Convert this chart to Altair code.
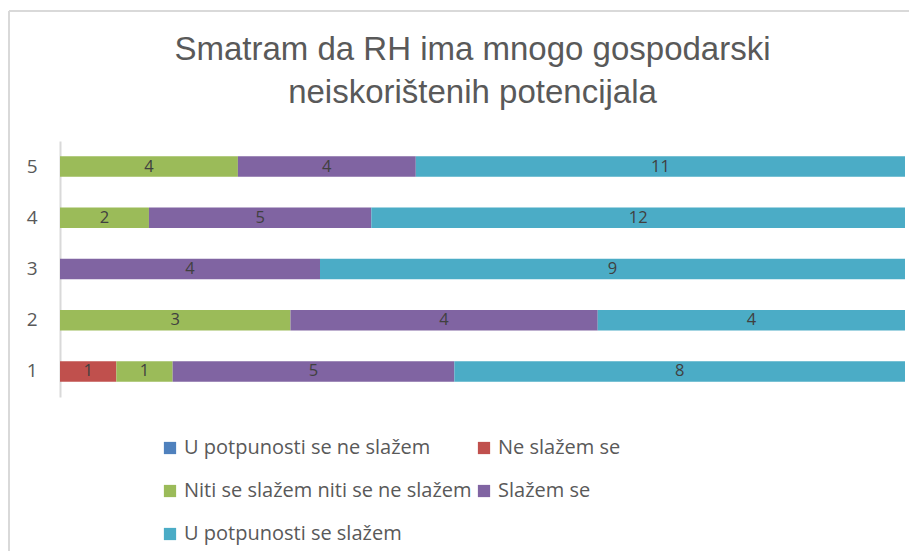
import altair as alt
import pandas as pd

categories = ["1", "2", "3", "4", "5"]
series = [
    "U potpunosti se ne slažem",
    "Ne slažem se",
    "Niti se slažem niti se ne slažem",
    "Slažem se",
    "U potpunosti se slažem",
]
colors = ["#4F81BD", "#C0504D", "#9BBB59", "#8064A2", "#4BACC6"]
v_potpuno_ne = [0, 0, 0, 0, 0]
v_ne = [1, 0, 0, 0, 0]
v_niti = [1, 3, 0, 2, 4]
v_slazem = [5, 4, 4, 5, 4]
v_potpuno = [8, 4, 9, 12, 11]

title_lines = ["Smatram da RH ima mnogo gospodarski", "neiskorištenih potencijala"]

rows = []
for si, vals in enumerate([v_potpuno_ne, v_ne, v_niti, v_slazem, v_potpuno]):
    for ci, c in enumerate(categories):
        if vals[ci] > 0:
            rows.append({"cat": c, "series": series[si], "order": si, "value": vals[ci]})
df = pd.DataFrame(rows)

ysort = list(reversed(categories))

base = alt.Chart(df).transform_stack(
    stack="value", groupby=["cat"], as_=["x0", "x1"], offset="normalize",
    sort=[alt.SortField("order", order="ascending")]
).transform_calculate(xm="(datum.x0 + datum.x1) / 2")

yenc = alt.Y("cat:N", sort=ysort, title=None,
             scale=alt.Scale(paddingInner=0.6, paddingOuter=0.3),
             axis=alt.Axis(ticks=False, labelPadding=23, labelFontSize=19,
                           labelFont="Open Sans", labelColor="#595959",
                           domainColor="#d9d9d9", domainWidth=2))

bars = base.mark_bar().encode(
    x=alt.X("x0:Q", scale=alt.Scale(domain=[0, 1]), axis=None),
    x2="x1:Q",
    y=yenc,
    color=alt.Color("series:N", scale=alt.Scale(domain=series, range=colors),
                    legend=alt.Legend(orient="none", legendX=100, legendY=297,
                                      columns=2, direction="horizontal",
                                      title=None, symbolType="square",
                                      symbolSize=150, symbolStrokeWidth=0,
                                      labelFont="Open Sans", labelFontSize=20,
                                      labelColor="#595959", rowPadding=23,
                                      columnPadding=2, labelOffset=4,
                                      labelLimit=400)),
)

labels = base.mark_text(font="Open Sans", fontSize=16.5, color="#404040").encode(
    x=alt.X("xm:Q", scale=alt.Scale(domain=[0, 1]), axis=None),
    y=alt.Y("cat:N", sort=ysort),
    text="value:Q",
)

border = alt.Chart(pd.DataFrame({"a": [0]})).mark_rule(color="#d9d9d9", strokeWidth=2).encode(
    x=alt.value(-51), y=alt.value(-130), y2=alt.value(430)
)
border2 = alt.Chart(pd.DataFrame({"a": [0]})).mark_rule(color="#d9d9d9", strokeWidth=2).encode(
    x=alt.value(-51), x2=alt.value(860), y=alt.value(-130)
)

chart = alt.layer(bars, labels, border, border2).properties(
    width=845, height=256,
    autosize=alt.AutoSizeParams(type="none"),
    padding={"left": 52, "top": 133, "right": 4, "bottom": 154},
    title=alt.TitleParams(text=title_lines, fontSize=33, font="Liberation Sans",
                          fontWeight="normal", color="#595959", lineHeight=43,
                          anchor="middle", offset=-100, dx=-10),
).configure_view(stroke=None)

chart.save("out.html", embed_options={"renderer": "svg", "actions": False})
